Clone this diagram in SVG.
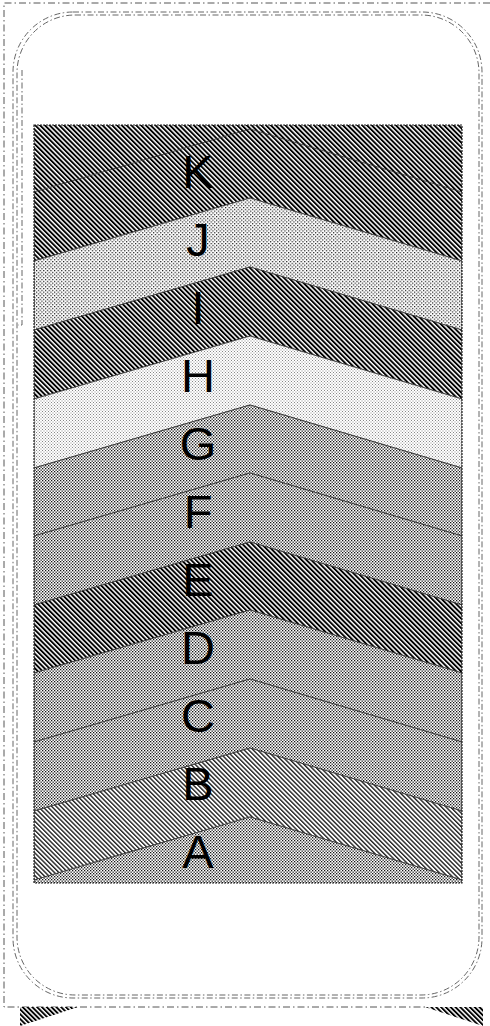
<svg xmlns="http://www.w3.org/2000/svg" width="490" height="1026" viewBox="0 0 490 1026">
<style>
.frame{fill:none;stroke:#555;stroke-width:1;stroke-dasharray:7 3 1.5 3}
.rr{fill:none;stroke:#666;stroke-width:1;stroke-dasharray:6 2.5 1.5 2.5}
.edge{stroke:#333;stroke-width:0.8}
.lbl{font-family:"Liberation Sans",Arial,sans-serif;font-size:47px;fill:#000;text-anchor:middle}
.blk{fill:none;stroke:#222;stroke-width:1.2;stroke-dasharray:2 1}
</style>
<defs>
<pattern id="hatchDark" patternUnits="userSpaceOnUse" width="3.4" height="3.4" patternTransform="rotate(-45)">
<rect width="3.4" height="3.4" fill="#fff"/>
<rect x="0" y="0" width="1.9" height="3.4" fill="#000"/>
</pattern>
<pattern id="hatchMed" patternUnits="userSpaceOnUse" width="3.2" height="3.2" patternTransform="rotate(-45)">
<rect width="3.2" height="3.2" fill="#fff"/>
<rect x="0" y="0" width="1.4" height="3.2" fill="#222"/>
</pattern>
<pattern id="dotsMed" patternUnits="userSpaceOnUse" width="3" height="3">
<rect width="3" height="3" fill="#fff"/>
<rect x="0" y="0" width="1.3" height="1.3" fill="#111"/>
<rect x="1.5" y="1.5" width="1.3" height="1.3" fill="#111"/>
</pattern>
<pattern id="dotsLight" patternUnits="userSpaceOnUse" width="3.6" height="3.6">
<rect width="3.6" height="3.6" fill="#fff"/>
<rect x="0" y="0" width="1.2" height="1.2" fill="#111"/>
<rect x="1.8" y="1.8" width="1.2" height="1.2" fill="#111"/>
</pattern>
<pattern id="dotsVLight" patternUnits="userSpaceOnUse" width="3" height="3">
<rect width="3" height="3" fill="#fff"/>
<rect x="0" y="0" width="1" height="1" fill="#888"/>
<rect x="1.5" y="1.5" width="1" height="1" fill="#888"/>
</pattern>
<clipPath id="blockClip"><rect x="34" y="125" width="428" height="758"/></clipPath>
</defs>

<g id="frame">
<polyline class="frame" points="490,3 4,3 4,1007 425,1007"/>
<rect class="rr" x="13" y="12" width="469" height="986" rx="60" ry="60"/>
<rect class="rr" x="17" y="15" width="462" height="980" rx="58" ry="58"/>
<polyline class="rr" points="22,70 22,325 18,325"/>
</g>

<g id="block" clip-path="url(#blockClip)">
<rect x="34" y="125" width="428" height="758" fill="url(#hatchDark)"/>
<g id="band-K">
<polygon points="34,192 250,129 462,192 462,261 250,198 34,261" fill="url(#hatchDark)" class="edge"/>
<text class="lbl" x="198" y="188">K</text>
</g>
<g id="band-J">
<polygon points="34,261 250,198 462,261 462,330 250,267 34,330" fill="url(#dotsLight)" class="edge"/>
<text class="lbl" x="198" y="256">J</text>
</g>
<g id="band-I">
<polygon points="34,330 250,267 462,330 462,399 250,336 34,399" fill="url(#hatchDark)" class="edge"/>
<text class="lbl" x="198" y="324">I</text>
</g>
<g id="band-H">
<polygon points="34,399 250,336 462,399 462,468 250,405 34,468" fill="url(#dotsVLight)" class="edge"/>
<text class="lbl" x="198" y="392">H</text>
</g>
<g id="band-G">
<polygon points="34,468 250,405 462,468 462,536 250,473 34,536" fill="url(#dotsMed)" class="edge"/>
<text class="lbl" x="198" y="460">G</text>
</g>
<g id="band-F">
<polygon points="34,536 250,473 462,536 462,605 250,542 34,605" fill="url(#dotsMed)" class="edge"/>
<text class="lbl" x="198" y="528">F</text>
</g>
<g id="band-E">
<polygon points="34,605 250,542 462,605 462,673 250,610 34,673" fill="url(#hatchDark)" class="edge"/>
<text class="lbl" x="198" y="596">E</text>
</g>
<g id="band-D">
<polygon points="34,673 250,610 462,673 462,742 250,679 34,742" fill="url(#dotsMed)" class="edge"/>
<text class="lbl" x="198" y="664">D</text>
</g>
<g id="band-C">
<polygon points="34,742 250,679 462,742 462,811 250,748 34,811" fill="url(#dotsMed)" class="edge"/>
<text class="lbl" x="198" y="732">C</text>
</g>
<g id="band-B">
<polygon points="34,811 250,748 462,811 462,880 250,817 34,880" fill="url(#hatchMed)" class="edge"/>
<text class="lbl" x="198" y="800">B</text>
</g>
<g id="band-A">
<polygon points="34,880 250,817 462,880 462,949 250,886 34,949" fill="url(#dotsMed)" class="edge"/>
<text class="lbl" x="198" y="868">A</text>
</g>
</g>
<rect class="blk" x="34" y="125" width="428" height="758"/>

<g id="bottom-tabs">
<polygon points="20,1007 78,1007 20,1026" fill="url(#hatchDark)"/>
<polygon points="425,1007 483,1007 483,1026" fill="url(#hatchDark)"/>
</g>
<g id="connectors"/>
</svg>
